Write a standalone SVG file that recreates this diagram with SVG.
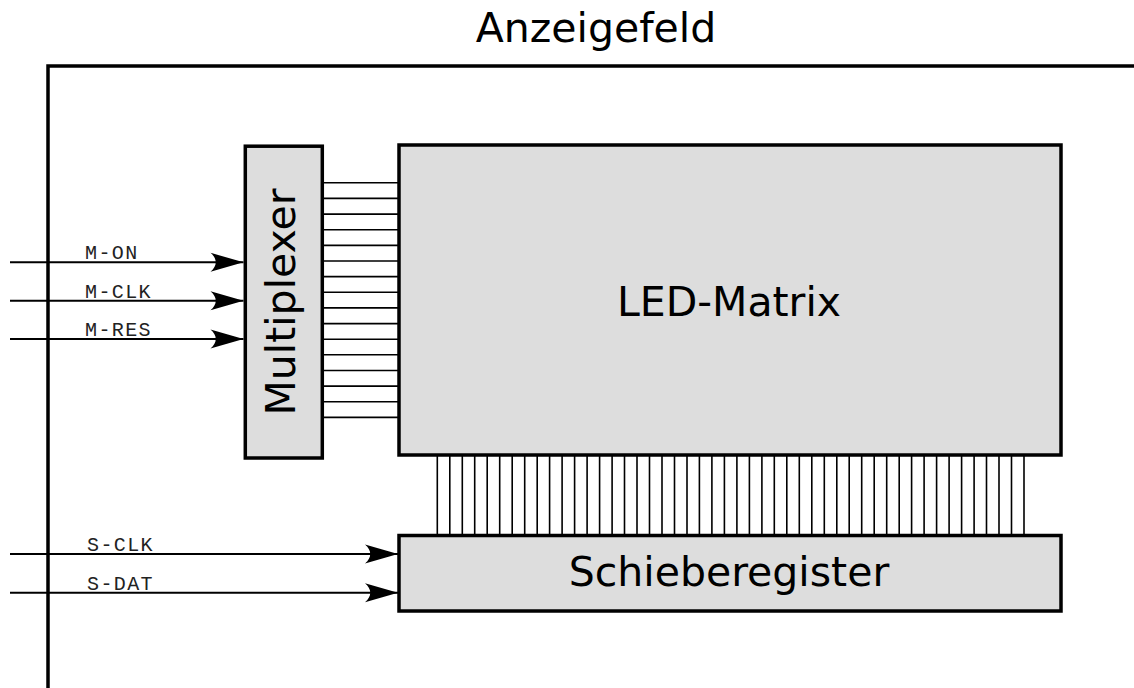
<svg xmlns="http://www.w3.org/2000/svg" width="1134" height="688" viewBox="0 0 1134 688">
<style>
.box{fill:#dddddd;stroke:#000;stroke-width:3.5}
.frame{fill:none;stroke:#000;stroke-width:3.5}
.big{font-family:"DejaVu Sans",sans-serif;font-size:41px;fill:#000}
.sig{font-family:"Liberation Mono",monospace;font-size:20px;letter-spacing:1.4px;fill:#222}
.bus{fill:none;stroke:#000;stroke-width:1.6}
.arr{fill:none;stroke:#000;stroke-width:2}
</style>
<defs>
<marker id="ah" markerUnits="userSpaceOnUse" viewBox="-34 -11 36 22" refX="0" refY="0" markerWidth="36" markerHeight="22" orient="auto" overflow="visible">
<path d="M0,0 L-33,-9.5 C-26,-3.5 -26,3.5 -33,9.5 Z" fill="#000"/>
</marker>
</defs>
<rect width="1134" height="688" fill="#fff"/>
<g id="frame">
<path class="frame" d="M48,688 V66 H1134"/>
<text class="big" x="596" y="42" text-anchor="middle" font-size="40">Anzeigefeld</text>
</g>
<g id="connectors">
<path class="bus" d="M324,182.8H398M324,198.4H398M324,214.1H398M324,229.7H398M324,245.4H398M324,261H398M324,276.6H398M324,292.3H398M324,307.9H398M324,323.6H398M324,339.2H398M324,354.8H398M324,370.5H398M324,386.1H398M324,401.8H398M324,417.4H398"/>
<path class="bus" d="M437.3,456V534M449.8,456V534M462.3,456V534M474.7,456V534M487.2,456V534M499.7,456V534M512.2,456V534M524.7,456V534M537.2,456V534M549.6,456V534M562.1,456V534M574.6,456V534M587.1,456V534M599.6,456V534M612.1,456V534M624.5,456V534M637,456V534M649.5,456V534M662,456V534M674.5,456V534M687,456V534M699.4,456V534M711.9,456V534M724.4,456V534M736.9,456V534M749.4,456V534M761.9,456V534M774.3,456V534M786.8,456V534M799.3,456V534M811.8,456V534M824.3,456V534M836.8,456V534M849.2,456V534M861.7,456V534M874.2,456V534M886.7,456V534M899.2,456V534M911.6,456V534M924.1,456V534M936.6,456V534M949.1,456V534M961.6,456V534M974.1,456V534M986.5,456V534M999,456V534M1011.5,456V534M1024,456V534"/>
<line class="arr" x1="10" y1="262.3" x2="243.5" y2="262.3" marker-end="url(#ah)"/>
<line class="arr" x1="10" y1="300.7" x2="243.5" y2="300.7" marker-end="url(#ah)"/>
<line class="arr" x1="10" y1="339" x2="243.5" y2="339" marker-end="url(#ah)"/>
<line class="arr" x1="10" y1="554" x2="398" y2="554" marker-end="url(#ah)"/>
<line class="arr" x1="10" y1="592.7" x2="398" y2="592.7" marker-end="url(#ah)"/>
<text class="sig" x="85" y="259">M-ON</text>
<text class="sig" x="85" y="297.7">M-CLK</text>
<text class="sig" x="85" y="336">M-RES</text>
<text class="sig" x="87" y="551.3">S-CLK</text>
<text class="sig" x="87" y="590">S-DAT</text>
</g>
<g id="multiplexer">
<rect class="box" x="245.3" y="146.2" width="77" height="311.8"/>
<text class="big" transform="translate(295,302) rotate(-90)" text-anchor="middle">Multiplexer</text>
</g>
<g id="led-matrix">
<rect class="box" x="399" y="145" width="662" height="310"/>
<text class="big" x="729" y="316" text-anchor="middle">LED-Matrix</text>
</g>
<g id="schieberegister">
<rect class="box" x="399" y="535.5" width="662" height="75.5"/>
<text class="big" x="729" y="586" text-anchor="middle">Schieberegister</text>
</g>
</svg>
